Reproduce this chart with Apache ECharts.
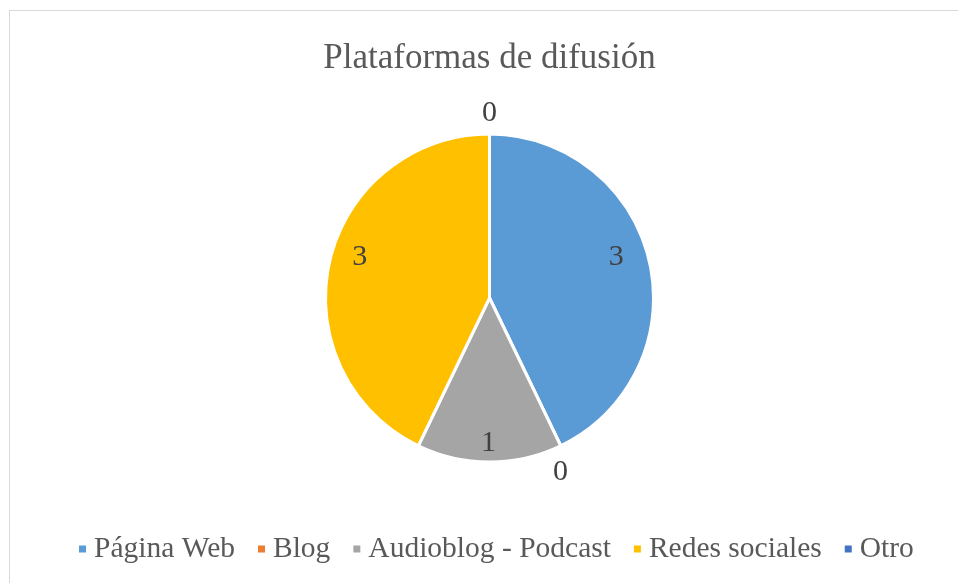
<!DOCTYPE html>
<html>
<head>
<meta charset="utf-8">
<script src="https://cdn.jsdelivr.net/npm/echarts@6/dist/echarts.min.js"></script>
<style>
  html, body { margin: 0; padding: 0; background: #fff; }
  #wrap { position: relative; width: 958px; height: 583px; overflow: hidden; }
  #frame { position: absolute; left: 9px; top: 10px; width: 960px; height: 600px; border: 1px solid #d9d9d9; box-sizing: border-box; }
  #chart { position: absolute; left: 10px; top: 0; width: 959px; height: 583px; }
</style>
</head>
<body>
<div id="wrap">
  <div id="frame"></div>
  <div id="chart"></div>
</div>
<script>
// datos del gráfico
var categorias = ['Página Web', 'Blog', 'Audioblog - Podcast', 'Redes sociales', 'Otro'];
var valores = [3, 0, 1, 3, 0];
var colores = ['#5b9bd5', '#ed7d31', '#a5a5a5', '#ffc000', '#4472c4'];

var fuente = '"Liberation Serif", "Times New Roman", serif';
var centro = [479.5, 298];
var radio = 164;
// pequeños desplazamientos de etiquetas (como las coloca Excel)
var ajusteEtiquetas = [[-4, -11], [-11, 4], [-1, 11], [1, -11], [0, 4]];

var datos = categorias.map(function (nombre, i) {
  return { name: nombre, value: valores[i], itemStyle: { color: colores[i] } };
});

// series transparentes solo para colocar las etiquetas
var etiquetas = categorias.map(function (nombre, i) {
  return { name: nombre, value: valores[i] };
});

function capaEtiquetas(factor, mostrar) {
  return {
    type: 'pie',
    silent: true,
    center: centro,
    radius: [0, factor],
    startAngle: 90,
    clockwise: true,
    avoidLabelOverlap: false,
    stillShowZeroSum: true,
    legendHoverLink: false,
    itemStyle: { color: 'rgba(0,0,0,0)' },
    label: {
      show: true,
      position: 'inside',
      fontFamily: fuente,
      fontSize: 30,
      color: '#404040',
      formatter: function (p) { return mostrar(p.value) ? String(p.value) : ''; }
    },
    labelLine: { show: false },
    labelLayout: function (p) {
      var a = ajusteEtiquetas[p.dataIndex];
      return { dx: a[0], dy: a[1] };
    },
    emphasis: { disabled: true },
    tooltip: { show: false },
    data: etiquetas
  };
}

var chart = echarts.init(document.getElementById('chart'));
chart.setOption({
  animation: false,
  title: {
    text: 'Plataformas de difusión',
    left: 'center',
    top: 36,
    textStyle: { fontFamily: fuente, fontSize: 35, fontWeight: 'normal', color: '#595959' }
  },
  legend: {
    bottom: 14,
    left: 62,
    icon: 'rect',
    itemWidth: 9,
    itemHeight: 9,
    itemGap: 21,
    data: categorias,
    textStyle: { fontFamily: fuente, fontSize: 29.5, color: '#595959', padding: [0, 0, 0, 2] }
  },
  series: [{
    type: 'pie',
    center: centro,
    radius: [0, radio],
    startAngle: 90,
    clockwise: true,
    stillShowZeroSum: true,
    itemStyle: { borderColor: '#fff', borderWidth: 3 },
    label: { show: false },
    labelLine: { show: false },
    emphasis: { disabled: true },
    data: datos
  },
  // valores dentro del pastel
  capaEtiquetas(radio * 1.6, function (v) { return v > 0; }),
  // ceros fuera del pastel
  capaEtiquetas((radio + 22) * 2, function (v) { return v === 0; })
  ]
});
</script>
</body>
</html>
